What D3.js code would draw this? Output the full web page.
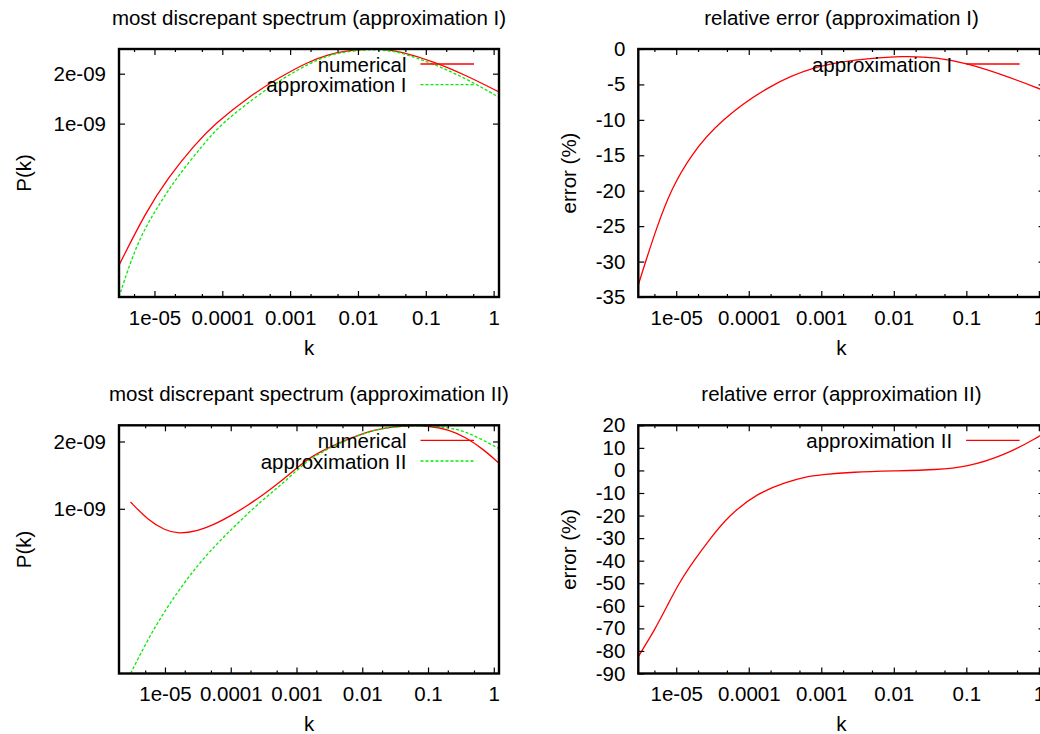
<!DOCTYPE html>
<html>
<head>
<meta charset="utf-8">
<script src="https://cdn.jsdelivr.net/npm/d3@7"></script>
<style>
  body { margin: 0; background: #fff; }
  svg { display: block; }
  text { font-family: "Liberation Sans", Arial, Helvetica, sans-serif; fill: #000; }
</style>
</head>
<body>
<svg id="chart" width="1040" height="734"></svg>
<script>
// ---- k axis ticks ----
const kTickValues = [1e-5, 1e-4, 1e-3, 1e-2, 1e-1, 1];
const kTickLabels = ["1e-05", "0.0001", "0.001", "0.01", "0.1", "1"];

// ---- spectrum axis ticks ----
const pTickValues = [1e-9, 2e-9];
const pTickLabels = ["1e-09", "2e-09"];

// ---- error axis ticks ----
const errITicks = [0, -5, -10, -15, -20, -25, -30, -35];
const errIITicks = [20, 10, 0, -10, -20, -30, -40, -50, -60, -70, -80, -90];

// ---- approximation I : spectra ----
const kNumI = [3.0e-6, 7.53e-6, 1.57e-5, 3.90e-5, 7.69e-5, 2.68e-4, 6.62e-4, 1.84e-3, 3.85e-3, 6.3e-3, 1.12e-2, 1.78e-2, 2.82e-2, 4.17e-2, 0.129, 0.402, 1.2];
const pNumI = [1.40e-10, 2.95e-10, 4.69e-10, 7.44e-10, 9.96e-10, 1.489e-9, 1.876e-9, 2.361e-9, 2.624e-9, 2.73e-9, 2.806e-9, 2.818e-9, 2.782e-9, 2.717e-9, 2.376e-9, 1.945e-9, 1.552e-9];
const kApproxI = [3.0e-6, 5.37e-6, 1.0e-5, 2.09e-5, 5.18e-5, 9.66e-5, 3.36e-4, 8.32e-4, 1.95e-3, 3.85e-3, 6.3e-3, 1.12e-2, 1.78e-2, 2.82e-2, 4.17e-2, 0.129, 0.402, 1.2];
const pApproxI = [9.0e-11, 1.862e-10, 2.95e-10, 4.69e-10, 7.44e-10, 9.96e-10, 1.489e-9, 1.90e-9, 2.32e-9, 2.595e-9, 2.70e-9, 2.778e-9, 2.79e-9, 2.755e-9, 2.69e-9, 2.303e-9, 1.859e-9, 1.442e-9];

// ---- approximation I : relative error (%) ----
const kErrI = [3.0e-6, 3.78e-6, 5.47e-6, 8.34e-6, 1.57e-5, 4.08e-5, 2.0e-4, 7.89e-4, 2.81e-3, 1.37e-2, 3.98e-2, 0.1, 0.329, 1.02, 1.2];
const eErrI = [-33.3, -30, -25, -20, -15, -10, -5, -2.5, -1.5, -0.95, -1.2, -2.0, -3.7, -5.6, -5.9];

// ---- approximation II : spectra ----
const kNumII = [3.0e-6, 5.58e-6, 1.0e-5, 1.59e-5, 3.20e-5, 5.73e-5, 1.03e-4, 1.83e-4, 3.29e-4, 5.89e-4, 1.05e-3, 1.58e-3, 3.56e-3, 1.146e-2, 2.30e-2, 5.19e-2, 0.1045, 0.210, 0.376, 0.671, 1.2];
const pNumII = [1.072e-9, 8.88e-10, 8.01e-10, 7.72e-10, 7.96e-10, 8.52e-10, 9.35e-10, 1.037e-9, 1.169e-9, 1.331e-9, 1.538e-9, 1.694e-9, 1.923e-9, 2.206e-9, 2.308e-9, 2.363e-9, 2.345e-9, 2.26e-9, 2.085e-9, 1.86e-9, 1.60e-9];
const kApproxII = [3.0e-6, 5.58e-6, 1.0e-5, 1.79e-5, 3.20e-5, 5.73e-5, 1.03e-4, 1.83e-4, 3.29e-4, 5.89e-4, 1.05e-3, 1.58e-3, 3.56e-3, 1.146e-2, 2.6e-2, 7.41e-2, 0.210, 0.376, 0.671, 1.2];
const pApproxII = [1.833e-10, 2.63e-10, 3.5e-10, 4.5e-10, 5.62e-10, 6.82e-10, 8.1e-10, 9.55e-10, 1.115e-9, 1.283e-9, 1.502e-9, 1.663e-9, 1.913e-9, 2.202e-9, 2.327e-9, 2.363e-9, 2.31e-9, 2.21e-9, 2.04e-9, 1.855e-9];

// ---- approximation II : relative error (%) ----
const kErrII = [3.0e-6, 5.19e-6, 7.52e-6, 1.086e-5, 1.75e-5, 2.97e-5, 5.32e-5, 1.31e-4, 3.40e-4, 5.75e-4, 9.77e-4, 2.81e-3, 1.0e-2, 3.97e-2, 0.1, 0.329, 1.02, 1.2];
const eErrII = [-82.5, -70, -60, -50, -40, -30, -20, -10, -5, -3, -1.9, -0.7, -0.2, 0.3, 1.5, 6.5, 15.1, 16.8];

// ---- drawing ----
const W = 1040, H = 734;
const FONT = 20.5;
const RED = "#ff0000", GREEN = "#00ee00";

const svg = d3.select("#chart");
svg.append("rect").attr("width", W).attr("height", H).attr("fill", "#fff");
const defs = svg.append("defs");

// minor ticks at 2x and 5x of each decade
function minorTicks(domain) {
  const out = [];
  for (let e = -8; e <= 1; e++) {
    for (const m of [2, 5]) {
      const v = m * Math.pow(10, e);
      if (v > domain[0] * 1.001 && v < domain[1] * 0.999) out.push(v);
    }
  }
  return out;
}

function styleAxis(g) {
  g.attr("font-size", FONT).attr("font-family", null);
  g.select(".domain").remove();
  g.selectAll(".tick line").attr("stroke", "#000").attr("stroke-width", 1.2);
}

function drawPanel(cfg) {
  const { id, left, right, top, bottom, xDomain, yLog, yDomain, yTicks, yTickLabels,
          title, yLabel, yLabelX, series } = cfg;
  const g = svg.append("g");

  const x = d3.scaleLog().domain(xDomain).range([left, right]);
  const y = (yLog ? d3.scaleLog() : d3.scaleLinear()).domain(yDomain).range([bottom, top]);

  defs.append("clipPath").attr("id", "clip-" + id)
    .append("rect").attr("x", left).attr("y", top)
    .attr("width", right - left).attr("height", bottom - top);

  // curves
  const line = d3.line().x(d => x(d[0])).y(d => y(d[1])).curve(d3.curveBasis);
  series.forEach(s => {
    const pts = s.k.map((k, i) => [k, s.v[i]]);
    g.append("path").datum(pts)
      .attr("clip-path", `url(#clip-${id})`)
      .attr("fill", "none")
      .attr("stroke", s.color)
      .attr("stroke-width", 1.3)
      .attr("stroke-dasharray", s.dash || null)
      .attr("d", line);
  });

  // legend (key at top right, inside the frame)
  const keyEnd = right - 25;
  const keyStart = keyEnd - 53.5;
  series.forEach((s, i) => {
    const yy = top + 15 + i * 20.7;
    g.append("text").attr("x", keyStart - 14).attr("y", yy)
      .attr("text-anchor", "end").attr("dominant-baseline", "central")
      .attr("font-size", FONT).text(s.name);
    g.append("line").attr("x1", keyStart).attr("x2", keyEnd)
      .attr("y1", yy).attr("y2", yy)
      .attr("stroke", s.color).attr("stroke-width", 1.3)
      .attr("stroke-dasharray", s.dash || null);
  });

  // x axes (bottom with labels, top mirrored)
  const minors = minorTicks(xDomain);
  g.append("g").attr("transform", `translate(0,${bottom})`)
    .call(d3.axisBottom(x).tickValues(kTickValues).tickFormat((d, i) => kTickLabels[i])
      .tickSizeInner(-6).tickSizeOuter(0).tickPadding(13.4))
    .call(styleAxis);
  g.append("g").attr("transform", `translate(0,${bottom})`)
    .call(d3.axisBottom(x).tickValues(minors).tickFormat("").tickSizeInner(-3).tickSizeOuter(0))
    .call(styleAxis);
  g.append("g").attr("transform", `translate(0,${top})`)
    .call(d3.axisTop(x).tickValues(kTickValues).tickFormat("").tickSizeInner(-6).tickSizeOuter(0))
    .call(styleAxis);
  g.append("g").attr("transform", `translate(0,${top})`)
    .call(d3.axisTop(x).tickValues(minors).tickFormat("").tickSizeInner(-3).tickSizeOuter(0))
    .call(styleAxis);

  // y axes (left with labels, right mirrored)
  g.append("g").attr("transform", `translate(${left},0)`)
    .call(d3.axisLeft(y).tickValues(yTicks).tickFormat((d, i) => yTickLabels[i])
      .tickSizeInner(-6).tickSizeOuter(0).tickPadding(13))
    .call(styleAxis);
  g.append("g").attr("transform", `translate(${right},0)`)
    .call(d3.axisRight(y).tickValues(yTicks).tickFormat("").tickSizeInner(-6).tickSizeOuter(0))
    .call(styleAxis);

  // frame
  g.append("rect").attr("x", left).attr("y", top)
    .attr("width", right - left).attr("height", bottom - top)
    .attr("fill", "none").attr("stroke", "#000").attr("stroke-width", 2.4);

  // title and axis labels
  const cx = (left + right) / 2;
  g.append("text").attr("x", cx).attr("y", top - 24)
    .attr("text-anchor", "middle").attr("font-size", FONT).text(title);
  g.append("text").attr("x", cx).attr("y", bottom + 57.5)
    .attr("text-anchor", "middle").attr("font-size", FONT).text("k");
  g.append("text")
    .attr("transform", `translate(${yLabelX},${(top + bottom) / 2}) rotate(-90)`)
    .attr("text-anchor", "middle").attr("dominant-baseline", "central")
    .attr("font-size", FONT).text(yLabel);
}

function extentOf(...arrays) {
  return d3.extent(arrays.flat());
}

drawPanel({
  id: "specI", left: 119, right: 499, top: 49, bottom: 297,
  xDomain: [3e-6, 1.2], yLog: true, yDomain: extentOf(pNumI, pApproxI),
  yTicks: pTickValues, yTickLabels: pTickLabels,
  title: "most discrepant spectrum (approximation I)", yLabel: "P(k)", yLabelX: 23,
  series: [
    { name: "numerical", k: kNumI, v: pNumI, color: RED },
    { name: "approximation I", k: kApproxI, v: pApproxI, color: GREEN, dash: "3,2" }
  ]
});

drawPanel({
  id: "errI", left: 638.3, right: 1044.6, top: 49, bottom: 297,
  xDomain: [3e-6, 1.2], yLog: false, yDomain: [-35, 0],
  yTicks: errITicks, yTickLabels: errITicks.map(String),
  title: "relative error (approximation I)", yLabel: "error (%)", yLabelX: 568,
  series: [
    { name: "approximation I", k: kErrI, v: eErrI, color: RED }
  ]
});

drawPanel({
  id: "specII", left: 119, right: 499, top: 425.3, bottom: 673.5,
  xDomain: [2e-6, 1.2], yLog: true, yDomain: extentOf(pNumII, pApproxII),
  yTicks: pTickValues, yTickLabels: pTickLabels,
  title: "most discrepant spectrum (approximation II)", yLabel: "P(k)", yLabelX: 23,
  series: [
    { name: "numerical", k: kNumII, v: pNumII, color: RED },
    { name: "approximation II", k: kApproxII, v: pApproxII, color: GREEN, dash: "3,2" }
  ]
});

drawPanel({
  id: "errII", left: 638.3, right: 1044.6, top: 425.3, bottom: 673.5,
  xDomain: [3e-6, 1.2], yLog: false, yDomain: [-90, 20],
  yTicks: errIITicks, yTickLabels: errIITicks.map(String),
  title: "relative error (approximation II)", yLabel: "error (%)", yLabelX: 568,
  series: [
    { name: "approximation II", k: kErrII, v: eErrII, color: RED }
  ]
});
</script>
</body>
</html>
